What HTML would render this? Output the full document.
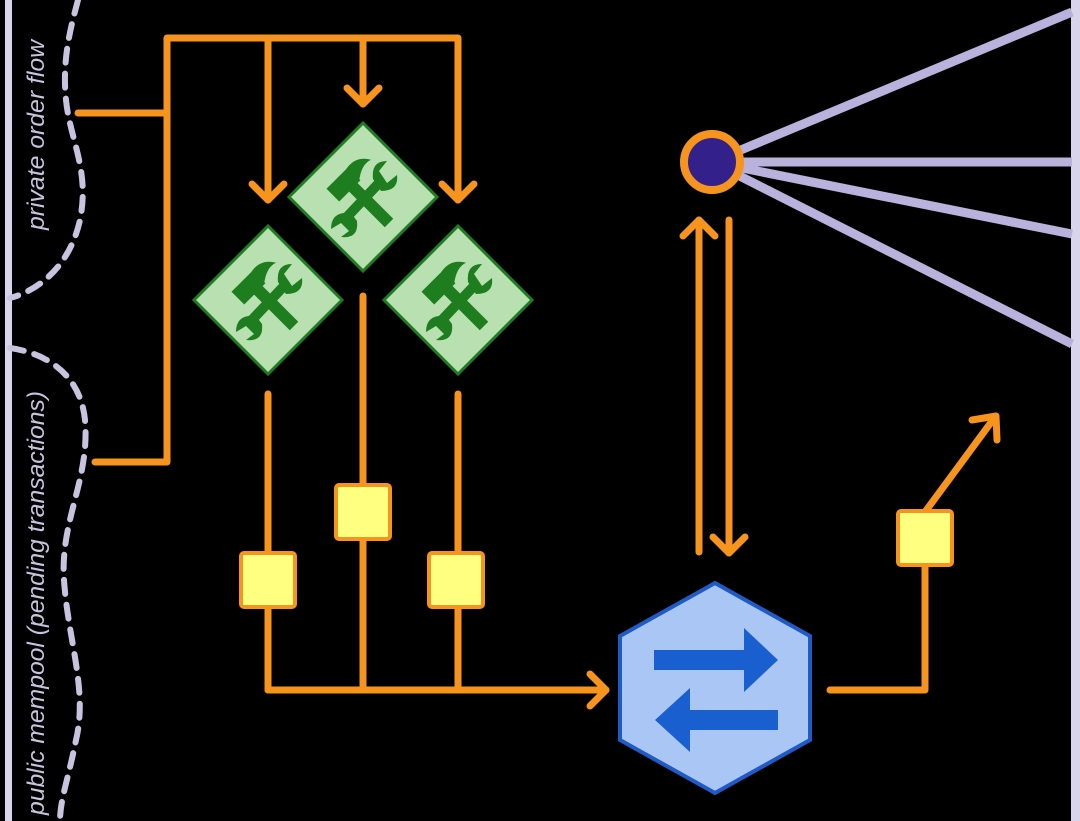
<!DOCTYPE html>
<html><head><meta charset="utf-8"><style>
html,body{margin:0;padding:0;background:#000;}
svg{display:block;}
</style></head><body>
<svg width="1080" height="821" viewBox="0 0 1080 821" xmlns="http://www.w3.org/2000/svg">
<rect width="1080" height="821" fill="#000"/>
<defs>
<g id="tools">
  <!-- hammer handle -->
  <line x1="-14" y1="-14" x2="26" y2="26" stroke="#1e7d1e" stroke-width="12"/>
  <!-- hammer head -->
  <g transform="translate(-16,-16) rotate(-45)">
    <rect x="-20" y="-9" width="30" height="18" fill="#1e7d1e"/>
    <path d="M8,-9 Q24,-12 32,2 Q22,-2 8,9 Z" fill="#1e7d1e"/>
  </g>
  <!-- wrench -->
  <line x1="-18" y1="22" x2="16" y2="-14" stroke="#1e7d1e" stroke-width="10"/>
  <path d="M10,-18 Q8,-36 24,-36 L16,-26 L24,-14 L34,-22 Q36,-6 18,-6 Z" fill="#1e7d1e"/>
  <path d="M-12,16 Q-32,14 -32,32 L-22,26 L-14,34 L-22,40 Q-4,42 -6,24 Z" fill="#1e7d1e"/>
</g>
</defs>

<!-- borders -->
<rect x="5" y="0" width="7" height="821" fill="#d8d4ec"/>
<rect x="1071" y="0" width="9" height="821" fill="#d8d4ec"/>

<!-- dashed curves -->
<path d="M78,0 C70,30 62,60 66,100 C70,140 90,170 80,220 C70,265 40,290 10,298" fill="none" stroke="#c8c4e0" stroke-width="6" stroke-dasharray="14,11" stroke-linecap="round"/>
<path d="M10,348 C40,352 80,370 85,420 C90,480 60,520 64,580 C68,640 88,690 76,740 C68,780 60,800 60,821" fill="none" stroke="#c8c4e0" stroke-width="6" stroke-dasharray="14,11" stroke-linecap="round"/>

<!-- rotated labels -->
<text transform="translate(44,135) rotate(-90)" text-anchor="middle" font-family="Liberation Sans, sans-serif" font-style="italic" font-size="24" fill="#c8c4e0" textLength="190" lengthAdjust="spacingAndGlyphs">private order flow</text>
<text transform="translate(44,603) rotate(-90)" text-anchor="middle" font-family="Liberation Sans, sans-serif" font-style="italic" font-size="24" fill="#c8c4e0" textLength="424" lengthAdjust="spacingAndGlyphs">public mempool (pending transactions)</text>

<g stroke="#f7941d" stroke-width="7" fill="none" stroke-linecap="round" stroke-linejoin="round">
  <polyline points="78,113 167,113"/>
  <polyline points="95,462 167,462 167,38 458,38 458,200"/>
  <line x1="268" y1="38" x2="268" y2="200"/>
  <line x1="363" y1="38" x2="363" y2="104"/>
  <polyline points="252,184 268,200 284,184"/>
  <polyline points="347,88 363,104 379,88"/>
  <polyline points="442,184 458,200 474,184"/>
  <line x1="268" y1="394" x2="268" y2="690"/>
  <line x1="363" y1="296" x2="363" y2="690"/>
  <line x1="458" y1="394" x2="458" y2="690"/>
  <line x1="268" y1="690" x2="606" y2="690"/>
  <polyline points="590,674 606,690 590,706"/>
  <line x1="699" y1="552" x2="699" y2="220"/>
  <polyline points="683,236 699,220 715,236"/>
  <line x1="729" y1="220" x2="729" y2="553"/>
  <polyline points="713,537 729,553 745,537"/>
  <polyline points="830,690 925,690 925,540"/>
  <line x1="925" y1="512" x2="995" y2="417"/>
  <polyline points="972,420 996,416 997,440"/>
</g>

<g fill="#ffff80" stroke="#f7941d" stroke-width="4">
  <rect x="241" y="553" width="54" height="54" rx="3"/>
  <rect x="336" y="485" width="54" height="54" rx="3"/>
  <rect x="429" y="553" width="54" height="54" rx="3"/>
  <rect x="898" y="511" width="54" height="54" rx="3"/>
</g>

<g fill="#b9e0b0" stroke="#1e7d1e" stroke-width="3">
  <polygon points="363,123 437,197 363,271 289,197"/>
  <polygon points="268,226 342,300 268,374 194,300"/>
  <polygon points="458,226 532,300 458,374 384,300"/>
</g>
<use href="#tools" x="363" y="197"/>
<use href="#tools" x="268" y="300"/>
<use href="#tools" x="458" y="300"/>

<g stroke="#b8b2dc" stroke-width="9">
  <line x1="712" y1="162" x2="1072" y2="12"/>
  <line x1="712" y1="162" x2="1072" y2="162"/>
  <line x1="712" y1="162" x2="1072" y2="234"/>
  <line x1="712" y1="162" x2="1072" y2="344"/>
</g>
<circle cx="712" cy="162" r="28" fill="#33208a" stroke="#f7941d" stroke-width="8"/>

<polygon points="715,583 810,636 810,740 715,793 620,740 620,636" fill="#a9c6f4" stroke="#1e5bc6" stroke-width="4"/>
<g fill="#1a5fd0">
  <rect x="654" y="650" width="94" height="20"/>
  <polygon points="744,628 778,660 744,692"/>
  <rect x="688" y="710" width="90" height="20"/>
  <polygon points="690,688 655,720 690,752"/>
</g>
</svg>
</body></html>
